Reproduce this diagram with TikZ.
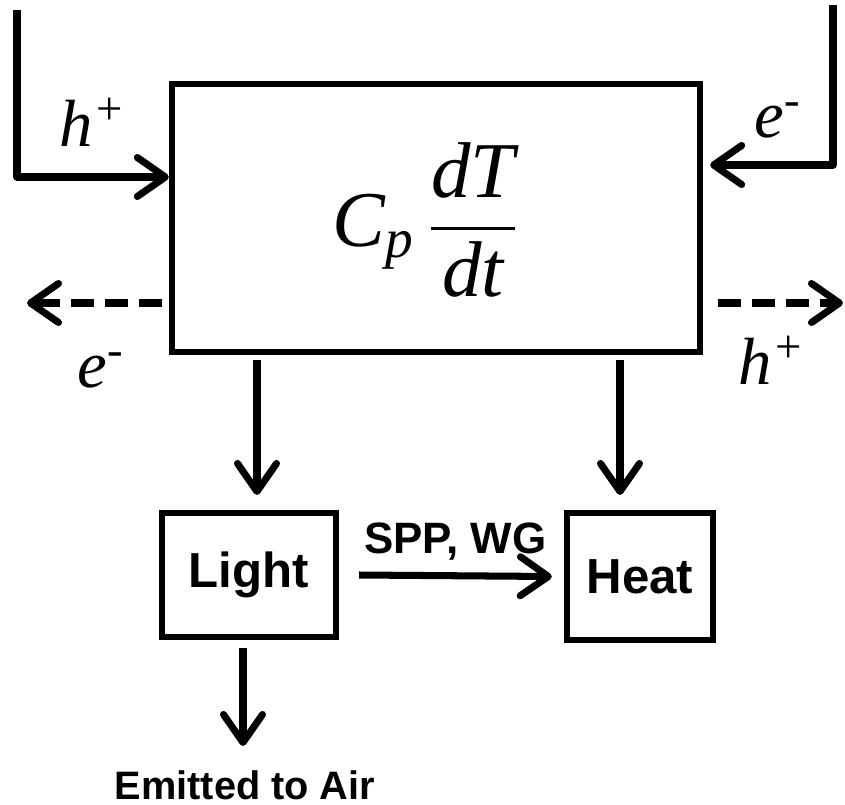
\documentclass[tikz,border=0pt]{standalone}
\usepackage{amsmath}
\usepackage{fontspec}
\setmainfont{Liberation Serif}
\newfontfamily\labelfont{Liberation Sans}
\usetikzlibrary{arrows.meta,positioning}
\tikzset{
  flow/.style={line width=2pt, -{Straight Barb[length=2.8mm,width=3.9mm,round]}},
  leak/.style={flow, dash pattern=on 2.3mm off 1.1mm},
  blockbox/.style={draw, line width=1.8pt, inner sep=0pt},
  carrier/.style={font=\fontsize{19}{22}\selectfont\itshape},
  tag/.style={font=\labelfont\bfseries\fontsize{12.5}{14}\selectfont},
}
\begin{document}
\begin{tikzpicture}
    \useasboundingbox (0,0) rectangle (8.45,-8.05);

    % central balance block
    \node[blockbox, minimum width=5.28cm, minimum height=2.68cm] (core) at (4.36,-2.18) {};
    \node (balance) at (4.26,-2.20)
      {\fontsize{22.5}{26}\selectfont $\text{\itshape C}_{\text{\itshape p}}\,\dfrac{\text{\itshape dT}}{\text{\itshape dt}}$};

    % light and heat blocks
    \node[blockbox, minimum width=1.74cm, minimum height=1.24cm] (light) at (2.49,-5.75)
      {\labelfont\bfseries\fontsize{14}{16}\selectfont Light};
    \node[blockbox, minimum width=1.46cm, minimum height=1.27cm] (heat) at (6.40,-5.765)
      {\labelfont\bfseries\fontsize{14}{16}\selectfont Heat};

    % injected carriers
    \coordinate (hsrc) at (0.17,-0.10);
    \coordinate (esrc) at (8.33,-0.05);
    \coordinate (hlevel) at (0,-1.77);
    \coordinate (elevel) at (0,-1.65);
    \draw[flow, line join=round] (hsrc) |- (core.west |- hlevel);
    \draw[flow, line join=round] (esrc) |- ([xshift=0.07cm]core.east |- elevel);
    \node[carrier] (hin) at (0.93,-1.22) {h\textsuperscript{+}};
    \node[carrier] (ein) at (7.78,-1.20) {e\textsuperscript{-}};

    % leaking carriers
    \coordinate (leaklevel) at (0,-3.03);
    \coordinate (eout) at (0.27,-3.03);
    \coordinate (hout) at (8.43,-3.03);
    \draw[leak] ([xshift=-0.07cm]core.west |- leaklevel) -- (eout);
    \draw[leak] ([xshift=0.15cm]core.east |- leaklevel) -- (hout);
    \node[carrier] (elab) at (1.01,-3.70) {e\textsuperscript{-}};
    \node[carrier] (hlab) at (7.72,-3.60) {h\textsuperscript{+}};

    % energy release
    \coordinate (tolight) at (2.57,-3.60);
    \coordinate (toheat) at (6.20,-3.60);
    \draw[flow] (tolight) -- (tolight |- 0,-4.95);
    \draw[flow] (toheat) -- (toheat |- 0,-4.95);

    % light to heat
    \draw[flow] ([xshift=0.2cm]light.east) -- node[tag, above=0pt] (loss) {SPP, WG} ([xshift=-0.12cm]heat.west);

    % emission
    \node[tag, font=\labelfont\bfseries\fontsize{11.3}{13}\selectfont] (air) at (2.45,-7.85) {Emitted to Air};
    \draw[flow] ([yshift=-0.08cm]light.south -| 2.43,0) -- ([yshift=0.12cm]air.north -| 2.43,0);
\end{tikzpicture}
\end{document}
